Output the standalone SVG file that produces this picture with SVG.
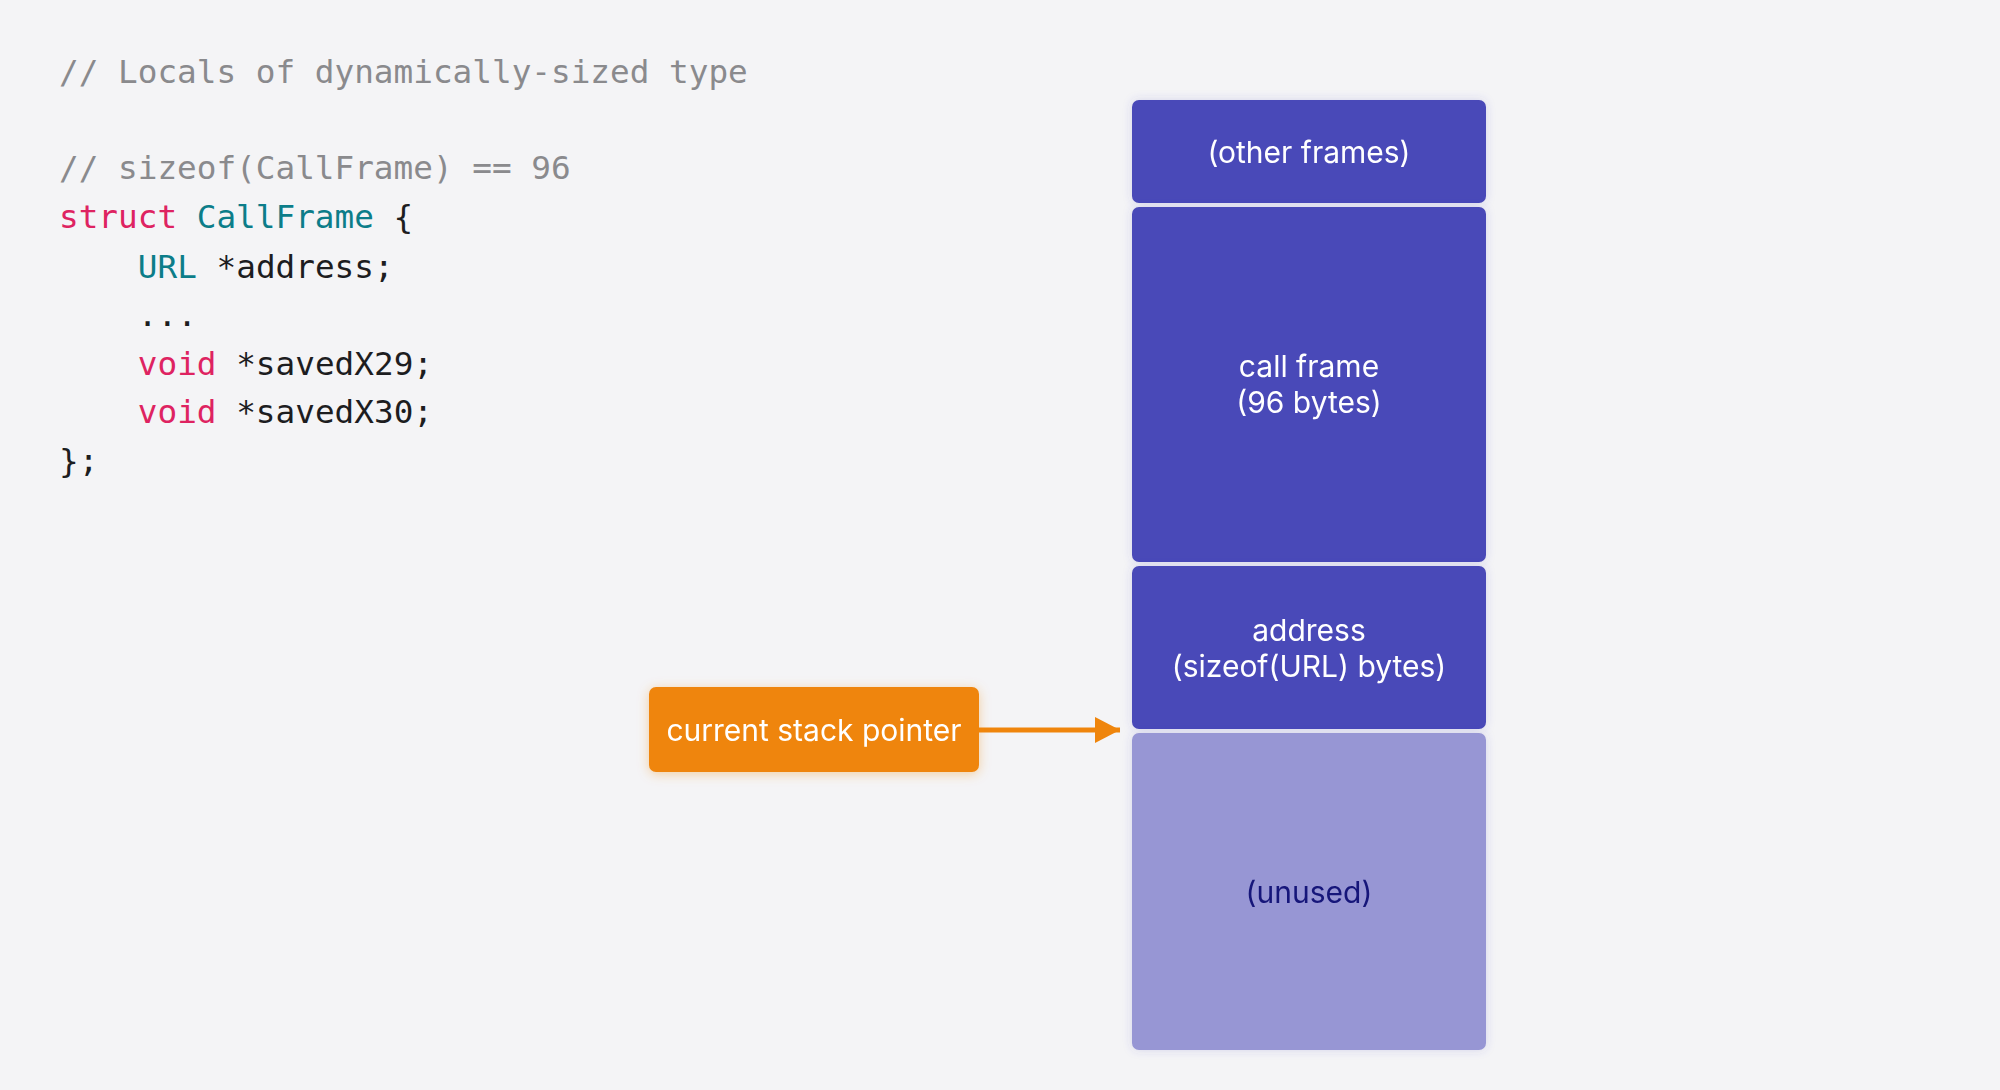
<svg xmlns="http://www.w3.org/2000/svg" width="2000" height="1090" viewBox="0 0 2000 1090">
<defs>
<style>
.code{font-family:"DejaVu Sans Mono","Liberation Mono",monospace;font-size:32.7px;fill:#1d1d1f}
.cm{fill:#8a8a8d}
.kw{fill:#de2361}
.ty{fill:#0c7d89}
.lbl{font-family:Inter,"Liberation Sans",sans-serif;font-size:30px;fill:#ffffff;text-anchor:middle}
.dark{fill:#4a49b8}
.light{fill:#9796d4}
</style>
<filter id="sh" x="-10%" y="-10%" width="120%" height="120%">
<feDropShadow dx="0" dy="0" stdDeviation="5" flood-color="#4a49b8" flood-opacity="0.18"/>
</filter>
<filter id="osh" x="-10%" y="-20%" width="120%" height="140%">
<feDropShadow dx="0" dy="2" stdDeviation="6" flood-color="#ef850c" flood-opacity="0.35"/>
</filter>
<marker id="ah" markerWidth="25" markerHeight="26" refX="25" refY="13" orient="auto" markerUnits="userSpaceOnUse">
<path d="M0,0 L25,13 L0,26 Z" fill="#ef850c"/>
</marker>
</defs>
<rect width="2000" height="1090" fill="#f4f4f6"/>
<g id="code" class="code">
<text x="59" y="83" class="cm">// Locals of dynamically-sized type</text>
<text x="59" y="179" class="cm">// sizeof(CallFrame) == 96</text>
<text x="59" y="228"><tspan class="kw">struct</tspan> <tspan class="ty">CallFrame</tspan> {</text>
<text x="137.8" y="278"><tspan class="ty">URL</tspan> *address;</text>
<text x="137.8" y="326">...</text>
<text x="137.8" y="375"><tspan class="kw">void</tspan> *savedX29;</text>
<text x="137.8" y="423"><tspan class="kw">void</tspan> *savedX30;</text>
<text x="59" y="472">};</text>
</g>
<g id="connectors">
<line x1="979" y1="730" x2="1120" y2="730" stroke="#ef850c" stroke-width="5" marker-end="url(#ah)"/>
</g>
<g id="other-frames" filter="url(#sh)">
<rect x="1132" y="100" width="354" height="103" rx="7" class="dark"/>
<text x="1309" y="163" class="lbl">(other frames)</text>
</g>
<g id="call-frame" filter="url(#sh)">
<rect x="1132" y="207" width="354" height="355" rx="7" class="dark"/>
<text x="1309" y="377" class="lbl">call frame</text>
<text x="1309" y="413" class="lbl">(96 bytes)</text>
</g>
<g id="address" filter="url(#sh)">
<rect x="1132" y="566" width="354" height="163" rx="7" class="dark"/>
<text x="1309" y="641" class="lbl">address</text>
<text x="1309" y="677" class="lbl">(sizeof(URL) bytes)</text>
</g>
<g id="unused" filter="url(#sh)">
<rect x="1132" y="733" width="354" height="317" rx="7" class="light"/>
<text x="1309" y="903" class="lbl" style="fill:#17177a">(unused)</text>
</g>
<g id="stack-pointer" filter="url(#osh)">
<rect x="649" y="687" width="330" height="85" rx="7" fill="#ef850c"/>
<text x="814" y="741" class="lbl">current stack pointer</text>
</g>
</svg>
